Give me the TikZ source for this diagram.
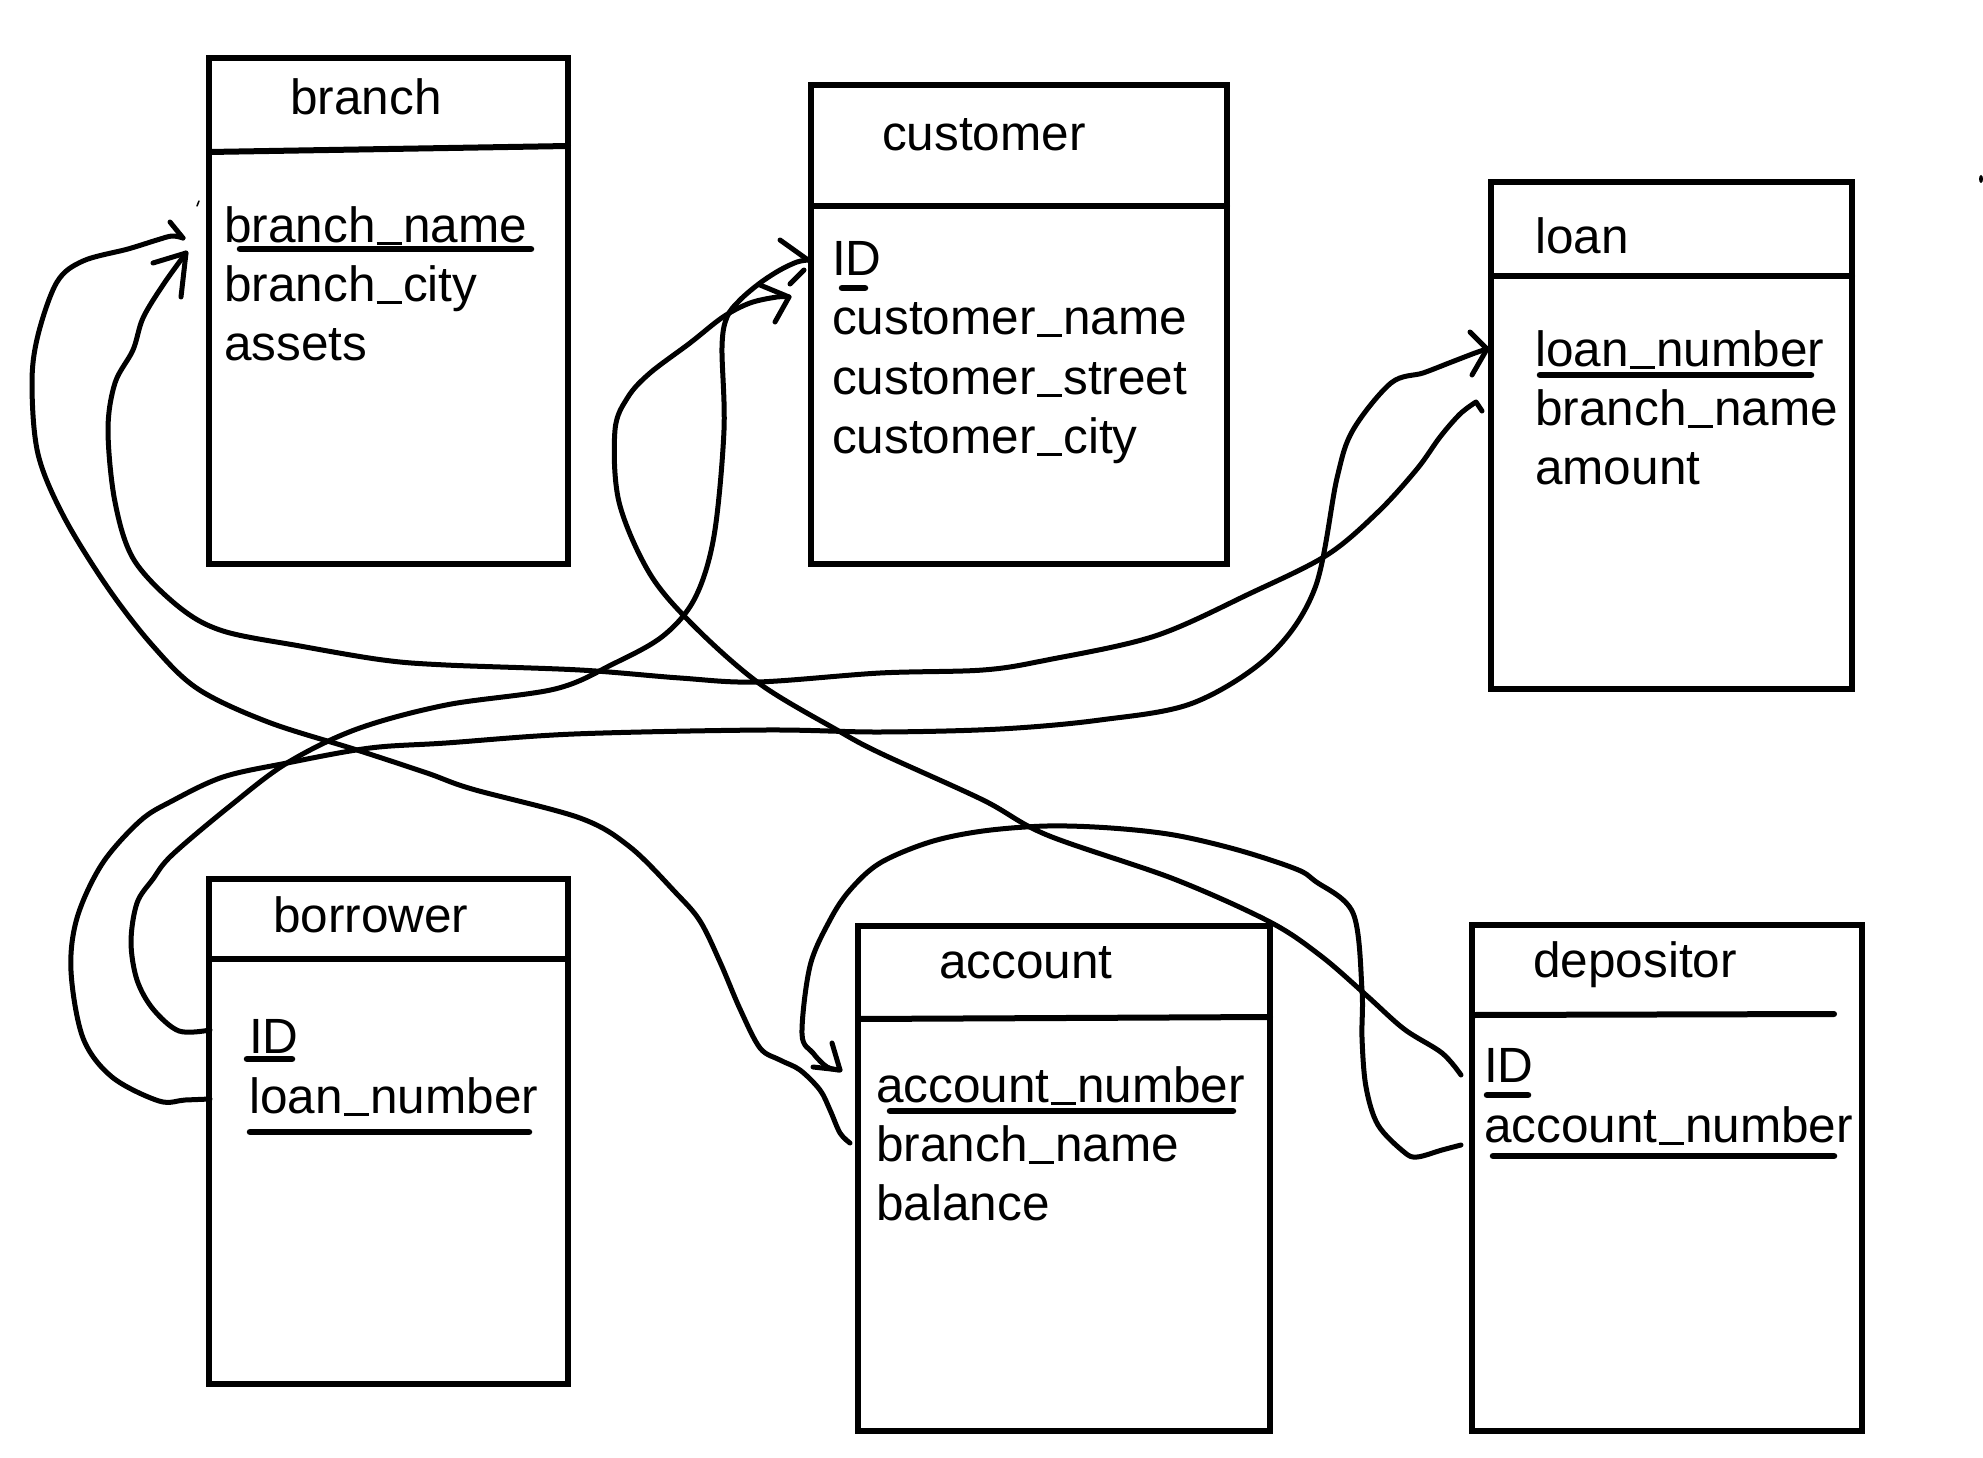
\documentclass[tikz,border=0pt]{standalone}
\usepackage{fontspec}
\setmainfont{Liberation Sans}
\newcommand\usc{\makebox[27.5pt]{\rule[-2.5pt]{25.5pt}{2.8pt}}}
\begin{document}
\begin{tikzpicture}[x=1pt,y=-1pt,
  tbl/.style={draw, line width=6pt, inner sep=0pt, outer sep=0pt},
  hdr/.style={line width=6pt, line cap=round},
  txt/.style={anchor=base west, inner sep=0pt, font=\fontsize{49.5}{60}\selectfont},
  keyline/.style={line width=6.5pt, line cap=round},
  conn/.style={line width=5pt, line cap=round, line join=round},
  mysmooth/.style={smooth, tension=0.55}]
\useasboundingbox[fill=white] (0,0) rectangle (1983,1458);

% ---------- tables ----------
\node[tbl, minimum width=359pt, minimum height=506pt] (branch)    at (388.5,311)  {};
\node[tbl, minimum width=416pt, minimum height=479pt] (customer)  at (1019,324.5) {};
\node[tbl, minimum width=361pt, minimum height=507pt] (loan)      at (1671.5,435.5) {};
\node[tbl, minimum width=359pt, minimum height=505pt] (borrower)  at (388.5,1131.5) {};
\node[tbl, minimum width=412pt, minimum height=505pt] (account)   at (1064,1178.5) {};
\node[tbl, minimum width=390pt, minimum height=506pt] (depositor) at (1667,1178)  {};

% header lines
\draw[hdr] (209,152) -- (568,146);
\draw[hdr] (811,206) -- (1227,206);
\draw[hdr] (1491,276) -- (1852,276);
\draw[hdr] (209,959) -- (568,959);
\draw[hdr] (858,1019) -- (1270,1017);
\draw[hdr] (1472,1015) -- (1834,1014);

% titles
\node[txt] (t-branch)    at (290,115)  {branch};
\node[txt] (t-customer)  at (882,151)  {customer};
\node[txt] (t-loan)      at (1535,253) {loan};
\node[txt] (t-borrower)  at (273,932)  {borrower};
\node[txt] (t-account)   at (939,978)  {account};
\node[txt] (t-depositor) at (1533,977) {depositor};

% attributes
\node[txt] (br-name)  at (224,242) {branch\usc name};
\node[txt] (br-city)  at (224,301) {branch\usc city};
\node[txt] (br-ass)   at (224,360) {assets};

\node[txt] (cu-id)    at (832,275) {ID};
\node[txt] (cu-name)  at (832,334) {customer\usc name};
\node[txt] (cu-str)   at (832,394) {customer\usc street};
\node[txt] (cu-city)  at (832,453) {customer\usc city};

\node[txt] (lo-num)   at (1535,366) {loan\usc number};
\node[txt] (lo-bn)    at (1535,425) {branch\usc name};
\node[txt] (lo-amt)   at (1535,484) {amount};

\node[txt] (bo-id)    at (249,1053) {ID};
\node[txt] (bo-ln)    at (249,1113) {loan\usc number};

\node[txt] (ac-num)   at (876,1102) {account\usc number};
\node[txt] (ac-bn)    at (876,1161) {branch\usc name};
\node[txt] (ac-bal)   at (876,1220) {balance};

\node[txt] (de-id)    at (1484,1082) {ID};
\node[txt] (de-an)    at (1484,1142) {account\usc number};

% key underlines
\draw[keyline] (240,249) -- (531,249);
\draw[keyline] (842,288) -- (865,288);
\draw[keyline] (1540,375) -- (1811,375);
\draw[keyline] (247,1059) -- (292,1059);
\draw[keyline] (250,1132) -- (529,1132);
\draw[keyline] (890,1111) -- (1233,1111);
\draw[keyline] (1487,1095) -- (1528,1095);
\draw[keyline] (1493,1156) -- (1834,1156);

% ---------- connector end points ----------
\coordinate (bo-ln-w) at (210,1099);
\coordinate (lo-num-w) at (1487,349);
\coordinate (bo-id-w) at (210,1030);
\coordinate (cu-id-a) at (808,260);
\coordinate (de-id-w) at (1461,1075);
\coordinate (cu-id-b) at (789,297);
\coordinate (ac-bn-w) at (850,1143);
\coordinate (br-name-a) at (183,238);
\coordinate (lo-bn-w) at (1482,411);
\coordinate (br-name-b) at (186,253);
\coordinate (de-an-w) at (1461,1145);
\coordinate (ac-num-w) at (840,1070);

% borrower.loan_number -> loan.loan_number
\draw[conn] plot[mysmooth] coordinates {(bo-ln-w) (185,1100) (159,1101) (112,1077) (83,1038) (71,971) (77,918) (102,864) (140,821) (172,801) (223,777) (287,763) (370,748) (446,743) (574,734) (765,730) (880,732) (1000,729) (1100,720) (1193,703) (1270,655) (1315,588) (1337,478) (1353,430) (1391,383) (1423,373) (1449,363) (1475,353) (lo-num-w)};
\draw[conn] (1470,332) -- (lo-num-w) -- (1472,375);

% borrower.ID -> customer.ID
\draw[conn] plot[mysmooth] coordinates {(bo-id-w) (179,1031) (153,1009) (137,980) (131,942) (137,903) (153,879) (172,855) (230,806) (287,763) (357,729) (446,705) (555,689) (613,664) (663,636) (695,598) (714,536) (724,430) (722,347) (727,317) (740,300) (760,283) (780,270) (797,262) (cu-id-a)};
\draw[conn] (780,240) -- (cu-id-a);
\draw[conn] (790,284) -- (804,270);

% depositor.ID -> customer.ID
\draw[conn] plot[mysmooth] coordinates {(de-id-w) (1442,1053) (1404,1029) (1366,995) (1321,956) (1270,922) (1174,879) (1047,835) (983,800) (880,753) (837,730) (760,684) (695,627) (650,574) (619,502) (615,430) (628,397) (650,373) (690,343) (723,317) (750,303) (777,297) (cu-id-b)};
\draw[conn] (760,285) -- (cu-id-b) -- (775,322);

% account.branch_name -> branch.branch_name
\draw[conn] plot[mysmooth] coordinates {(ac-bn-w) (840,1133) (830,1110) (820,1090) (800,1070) (780,1060) (760,1048) (740,1009) (720,962) (700,921) (676,893) (630,847) (580,818) (472,789) (427,773) (357,750) (268,722) (198,689) (153,646) (108,588) (64,517) (38,454) (32,383) (38,335) (57,282) (83,261) (128,249) (157,240) (172,236) (br-name-a)};
\draw[conn] (170,222) -- (br-name-a);

% loan.branch_name -> branch.branch_name
\draw[conn] (lo-bn-w) -- (1476,402) plot[mysmooth] coordinates {(1476,402) (1460,414) (1440,437) (1417,469) (1378,512) (1327,555) (1251,593) (1155,636) (1047,660) (983,670) (880,673) (757,682) (680,678) (580,670) (446,665) (383,660) (300,646) (223,631) (179,607) (134,560) (115,502) (108,430) (115,383) (133,350) (143,318) (163,285) (br-name-b)};
\draw[conn] (153,263) -- (br-name-b) -- (181,297);

% depositor.account_number -> account.account_number
\draw[conn] plot[mysmooth] coordinates {(de-an-w) (1442,1150) (1417,1157) (1404,1152) (1378,1125) (1366,1087) (1362,1038) (1362,990) (1353,913) (1315,881) (1296,869) (1238,850) (1174,835) (1111,828) (1047,826) (983,831) (930,842) (880,863) (850,890) (830,920) (810,966) (802,1034) (813,1053) (827,1067) (ac-num-w)};
\draw[conn] (832,1043) -- (ac-num-w) -- (813,1067);

% stray pen marks
\draw[line width=1.5pt, line cap=round] (197,206) -- (199,201);
\fill (1981,179) ellipse (2 and 4);
\end{tikzpicture}
\end{document}
